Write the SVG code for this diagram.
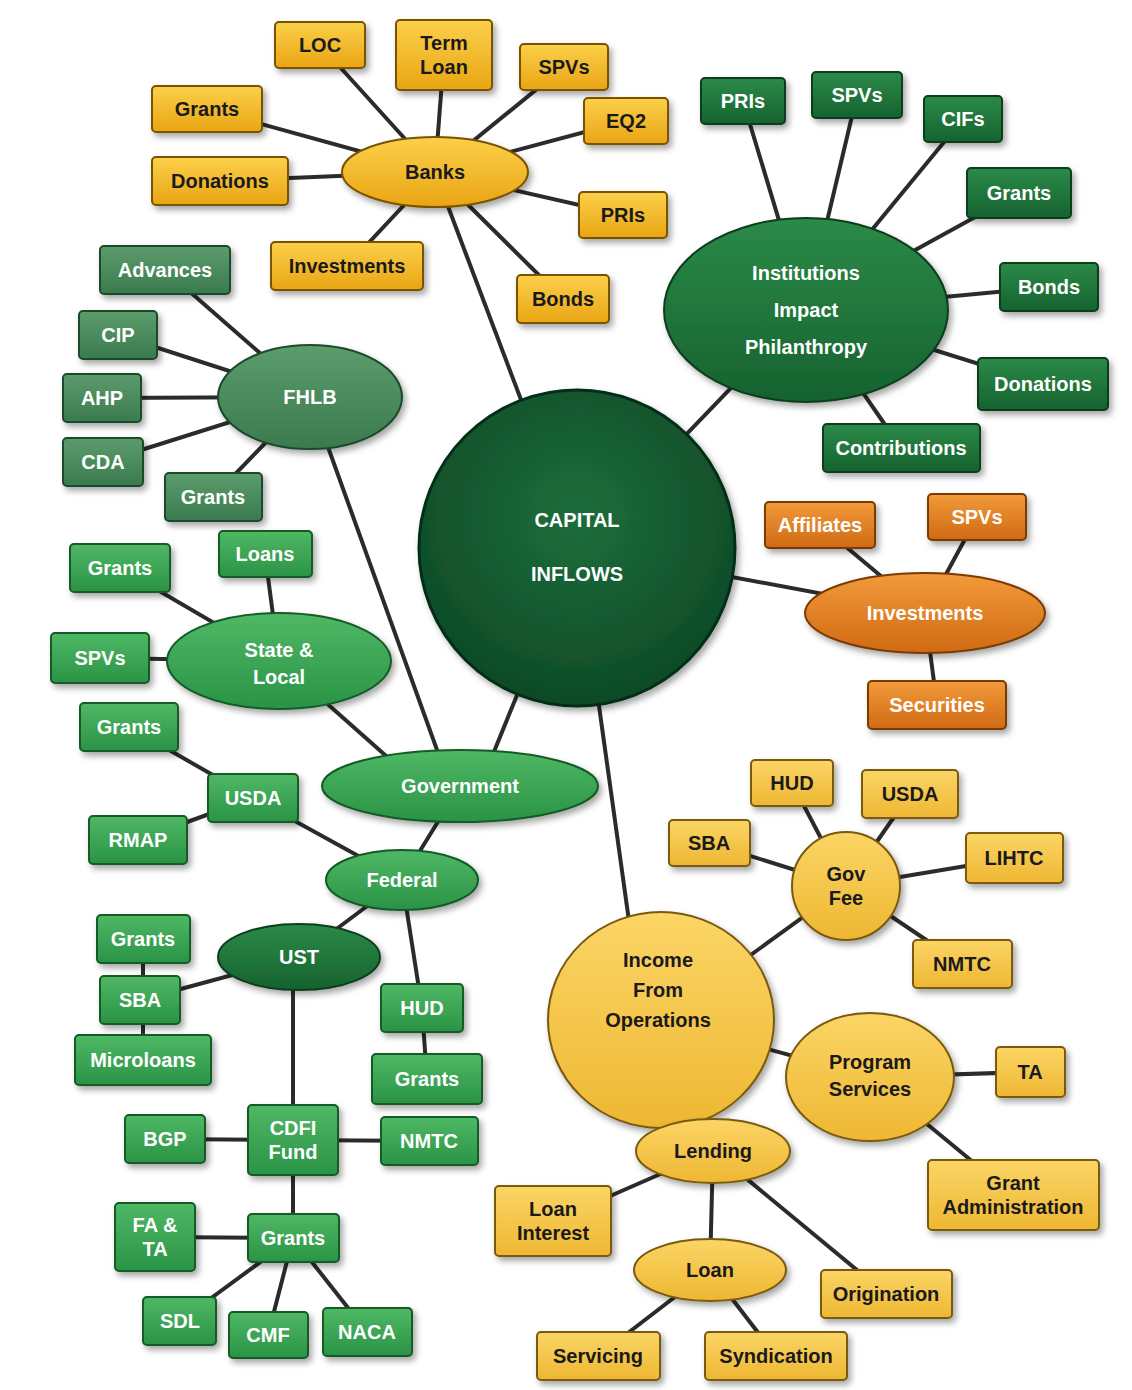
<svg xmlns="http://www.w3.org/2000/svg" width="1132" height="1390" viewBox="0 0 1132 1390">
<defs>
<filter id="sh" x="-20%" y="-20%" width="150%" height="160%"><feDropShadow dx="3" dy="4" stdDeviation="3" flood-color="#000" flood-opacity="0.35"/></filter>
<linearGradient id="gOr" x1="0" y1="0" x2="0" y2="1"><stop offset="0" stop-color="#fcd04a"/><stop offset="1" stop-color="#e9a514"/></linearGradient>
<linearGradient id="gYe" x1="0" y1="0" x2="0" y2="1"><stop offset="0" stop-color="#fbd566"/><stop offset="1" stop-color="#eeb732"/></linearGradient>
<linearGradient id="gDg" x1="0" y1="0" x2="0" y2="1"><stop offset="0" stop-color="#2b8a48"/><stop offset="1" stop-color="#16622f"/></linearGradient>
<linearGradient id="gMg" x1="0" y1="0" x2="0" y2="1"><stop offset="0" stop-color="#4fb865"/><stop offset="1" stop-color="#2a9346"/></linearGradient>
<linearGradient id="gSg" x1="0" y1="0" x2="0" y2="1"><stop offset="0" stop-color="#5c9c6c"/><stop offset="1" stop-color="#3a7a4e"/></linearGradient>
<linearGradient id="gDo" x1="0" y1="0" x2="0" y2="1"><stop offset="0" stop-color="#f29a3a"/><stop offset="1" stop-color="#d06a14"/></linearGradient>
<radialGradient id="gC" cx="0.5" cy="0.4" r="0.6"><stop offset="0" stop-color="#1e6e3c"/><stop offset="1" stop-color="#0e4a27"/></radialGradient>
</defs>
<style>
text{font-family:"Liberation Sans",Arial,sans-serif;font-weight:bold;text-anchor:middle;dominant-baseline:central}
.w{fill:#fff;font-size:20px}
.d{fill:#1a1a1a;font-size:20px}
.or{fill:url(#gOr);stroke:#7a5200;stroke-width:2;filter:url(#sh)}
.ye{fill:url(#gYe);stroke:#7a5a10;stroke-width:2;filter:url(#sh)}
.dg{fill:url(#gDg);stroke:#0b3d1c;stroke-width:2;filter:url(#sh)}
.mg{fill:url(#gMg);stroke:#135a27;stroke-width:2;filter:url(#sh)}
.sg{fill:url(#gSg);stroke:#1d4a2c;stroke-width:2;filter:url(#sh)}
.do{fill:url(#gDo);stroke:#7a3a05;stroke-width:2;filter:url(#sh)}
#edges line{stroke:#2b2b2b;stroke-width:4}
</style>
<g id="edges">
<line x1="577" y1="548" x2="435" y2="172"/><line x1="577" y1="548" x2="806" y2="310"/><line x1="577" y1="548" x2="925" y2="613"/><line x1="577" y1="548" x2="480" y2="786"/><line x1="577" y1="548" x2="640" y2="1000"/>
<line x1="435" y1="172" x2="320" y2="45"/><line x1="435" y1="172" x2="444" y2="55"/><line x1="435" y1="172" x2="564" y2="67"/><line x1="435" y1="172" x2="626" y2="121"/><line x1="435" y1="172" x2="623" y2="215"/><line x1="435" y1="172" x2="563" y2="299"/><line x1="435" y1="172" x2="347" y2="266"/><line x1="435" y1="172" x2="220" y2="181"/><line x1="435" y1="172" x2="207" y2="109"/>
<line x1="806" y1="310" x2="743" y2="101"/><line x1="806" y1="310" x2="857" y2="95"/><line x1="806" y1="310" x2="963" y2="119"/><line x1="806" y1="310" x2="1019" y2="193"/><line x1="806" y1="310" x2="1049" y2="287"/><line x1="806" y1="310" x2="1043" y2="384"/><line x1="806" y1="310" x2="901" y2="448"/>
<line x1="925" y1="613" x2="820" y2="525"/><line x1="925" y1="613" x2="977" y2="517"/><line x1="925" y1="613" x2="937" y2="705"/>
<line x1="310" y1="397" x2="165" y2="270"/><line x1="310" y1="397" x2="118" y2="335"/><line x1="310" y1="397" x2="102" y2="398"/><line x1="310" y1="397" x2="103" y2="462"/><line x1="310" y1="397" x2="213" y2="497"/><line x1="310" y1="397" x2="450" y2="786"/>
<line x1="279" y1="661" x2="265" y2="554"/><line x1="279" y1="661" x2="120" y2="568"/><line x1="279" y1="661" x2="100" y2="658"/><line x1="279" y1="661" x2="420" y2="786"/>
<line x1="460" y1="786" x2="402" y2="880"/>
<line x1="402" y1="880" x2="253" y2="798"/><line x1="253" y1="798" x2="129" y2="727"/><line x1="253" y1="798" x2="138" y2="840"/>
<line x1="402" y1="880" x2="299" y2="957"/><line x1="402" y1="880" x2="422" y2="1008"/><line x1="422" y1="1008" x2="427" y2="1079"/>
<line x1="143" y1="939" x2="143" y2="1060"/><line x1="299" y1="957" x2="140" y2="1000"/><line x1="293" y1="957" x2="293" y2="1140"/>
<line x1="293" y1="1140" x2="165" y2="1139"/><line x1="293" y1="1140" x2="429" y2="1141"/><line x1="293" y1="1140" x2="293" y2="1238"/>
<line x1="293" y1="1238" x2="155" y2="1237"/><line x1="293" y1="1238" x2="180" y2="1321"/><line x1="293" y1="1238" x2="268" y2="1335"/><line x1="293" y1="1238" x2="367" y2="1332"/>
<line x1="661" y1="1020" x2="846" y2="886"/><line x1="846" y1="886" x2="792" y2="783"/><line x1="846" y1="886" x2="910" y2="794"/><line x1="846" y1="886" x2="709" y2="843"/><line x1="846" y1="886" x2="1014" y2="858"/><line x1="846" y1="886" x2="962" y2="964"/>
<line x1="661" y1="1020" x2="870" y2="1077"/><line x1="870" y1="1077" x2="1030" y2="1072"/><line x1="870" y1="1077" x2="1013" y2="1195"/>
<line x1="661" y1="1020" x2="713" y2="1151"/><line x1="713" y1="1151" x2="553" y2="1221"/><line x1="713" y1="1151" x2="710" y2="1270"/><line x1="713" y1="1151" x2="886" y2="1294"/>
<line x1="710" y1="1270" x2="598" y2="1356"/><line x1="710" y1="1270" x2="776" y2="1356"/>
</g>
<g id="capital"><circle cx="577" cy="548" r="158" fill="url(#gC)" stroke="#062e16" stroke-width="3" filter="url(#sh)"/><text x="577" y="520" class="w" font-size="44">CAPITAL</text><text x="577" y="574" class="w" font-size="44">INFLOWS</text></g>
<g id="banks"><ellipse cx="435" cy="172" rx="93" ry="35" class="or"/><text x="435" y="172" class="d" font-size="28">Banks</text></g>
<g id="b-loc"><rect x="275" y="22" width="90" height="46" rx="4" class="or"/><text x="320" y="45" class="d">LOC</text></g>
<g id="b-term"><rect x="396" y="20" width="96" height="70" rx="4" class="or"/><text x="444" y="43" class="d">Term</text><text x="444" y="67" class="d">Loan</text></g>
<g id="b-spvs"><rect x="520" y="44" width="88" height="46" rx="4" class="or"/><text x="564" y="67" class="d">SPVs</text></g>
<g id="b-eq2"><rect x="584" y="98" width="84" height="46" rx="4" class="or"/><text x="626" y="121" class="d">EQ2</text></g>
<g id="b-pris"><rect x="579" y="192" width="88" height="46" rx="4" class="or"/><text x="623" y="215" class="d">PRIs</text></g>
<g id="b-bonds"><rect x="517" y="275" width="92" height="48" rx="4" class="or"/><text x="563" y="299" class="d">Bonds</text></g>
<g id="b-inv"><rect x="271" y="242" width="152" height="48" rx="4" class="or"/><text x="347" y="266" class="d">Investments</text></g>
<g id="b-don"><rect x="152" y="157" width="136" height="48" rx="4" class="or"/><text x="220" y="181" class="d">Donations</text></g>
<g id="b-grants"><rect x="152" y="86" width="110" height="46" rx="4" class="or"/><text x="207" y="109" class="d">Grants</text></g>
<g id="inst"><ellipse cx="806" cy="310" rx="142" ry="92" class="dg"/><text x="806" y="273" class="w" font-size="28">Institutions</text><text x="806" y="310" class="w" font-size="28">Impact</text><text x="806" y="347" class="w" font-size="28">Philanthropy</text></g>
<g id="i-pris"><rect x="701" y="78" width="84" height="46" rx="4" class="dg"/><text x="743" y="101" class="w">PRIs</text></g>
<g id="i-spvs"><rect x="812" y="72" width="90" height="46" rx="4" class="dg"/><text x="857" y="95" class="w">SPVs</text></g>
<g id="i-cifs"><rect x="924" y="96" width="78" height="46" rx="4" class="dg"/><text x="963" y="119" class="w">CIFs</text></g>
<g id="i-grants"><rect x="967" y="168" width="104" height="50" rx="4" class="dg"/><text x="1019" y="193" class="w">Grants</text></g>
<g id="i-bonds"><rect x="1000" y="263" width="98" height="48" rx="4" class="dg"/><text x="1049" y="287" class="w">Bonds</text></g>
<g id="i-don"><rect x="978" y="358" width="130" height="52" rx="4" class="dg"/><text x="1043" y="384" class="w">Donations</text></g>
<g id="i-contr"><rect x="823" y="424" width="157" height="48" rx="4" class="dg"/><text x="901" y="448" class="w">Contributions</text></g>
<g id="invest"><ellipse cx="925" cy="613" rx="120" ry="40" class="do"/><text x="925" y="613" class="w" font-size="25">Investments</text></g>
<g id="v-aff"><rect x="765" y="502" width="110" height="46" rx="4" class="do"/><text x="820" y="525" class="w">Affiliates</text></g>
<g id="v-spvs"><rect x="928" y="494" width="98" height="46" rx="4" class="do"/><text x="977" y="517" class="w">SPVs</text></g>
<g id="v-sec"><rect x="868" y="681" width="138" height="48" rx="4" class="do"/><text x="937" y="705" class="w">Securities</text></g>
<g id="fhlb"><ellipse cx="310" cy="397" rx="92" ry="52" class="sg"/><text x="310" y="397" class="w" font-size="28">FHLB</text></g>
<g id="f-adv"><rect x="100" y="246" width="130" height="48" rx="4" class="sg"/><text x="165" y="270" class="w">Advances</text></g>
<g id="f-cip"><rect x="79" y="311" width="78" height="48" rx="4" class="sg"/><text x="118" y="335" class="w">CIP</text></g>
<g id="f-ahp"><rect x="63" y="374" width="78" height="48" rx="4" class="sg"/><text x="102" y="398" class="w">AHP</text></g>
<g id="f-cda"><rect x="63" y="438" width="80" height="48" rx="4" class="sg"/><text x="103" y="462" class="w">CDA</text></g>
<g id="f-grants"><rect x="165" y="473" width="97" height="48" rx="4" class="sg"/><text x="213" y="497" class="w">Grants</text></g>
<g id="state"><ellipse cx="279" cy="661" rx="112" ry="48" class="mg"/><text x="279" y="650" class="w" font-size="22">State &amp;</text><text x="279" y="677" class="w" font-size="22">Local</text></g>
<g id="s-loans"><rect x="219" y="531" width="93" height="46" rx="4" class="mg"/><text x="265" y="554" class="w">Loans</text></g>
<g id="s-grants"><rect x="70" y="544" width="100" height="48" rx="4" class="mg"/><text x="120" y="568" class="w">Grants</text></g>
<g id="s-spvs"><rect x="51" y="633" width="98" height="50" rx="4" class="mg"/><text x="100" y="658" class="w">SPVs</text></g>
<g id="gov"><ellipse cx="460" cy="786" rx="138" ry="36" class="mg"/><text x="460" y="786" class="w" font-size="26">Government</text></g>
<g id="federal"><ellipse cx="402" cy="880" rx="76" ry="30" class="mg"/><text x="402" y="880" class="w" font-size="22">Federal</text></g>
<g id="usda"><rect x="208" y="774" width="90" height="48" rx="4" class="mg"/><text x="253" y="798" class="w">USDA</text></g>
<g id="u-grants"><rect x="80" y="703" width="98" height="48" rx="4" class="mg"/><text x="129" y="727" class="w">Grants</text></g>
<g id="u-rmap"><rect x="89" y="816" width="98" height="48" rx="4" class="mg"/><text x="138" y="840" class="w">RMAP</text></g>
<g id="ust"><ellipse cx="299" cy="957" rx="81" ry="33" class="dg"/><text x="299" y="957" class="w" font-size="22">UST</text></g>
<g id="t-grants"><rect x="97" y="915" width="93" height="48" rx="4" class="mg"/><text x="143" y="939" class="w">Grants</text></g>
<g id="t-sba"><rect x="100" y="976" width="80" height="48" rx="4" class="mg"/><text x="140" y="1000" class="w">SBA</text></g>
<g id="t-micro"><rect x="75" y="1035" width="136" height="50" rx="4" class="mg"/><text x="143" y="1060" class="w">Microloans</text></g>
<g id="hud"><rect x="381" y="984" width="82" height="48" rx="4" class="mg"/><text x="422" y="1008" class="w">HUD</text></g>
<g id="h-grants"><rect x="372" y="1054" width="110" height="50" rx="4" class="mg"/><text x="427" y="1079" class="w">Grants</text></g>
<g id="cdfi"><rect x="248" y="1105" width="90" height="70" rx="4" class="mg"/><text x="293" y="1128" class="w">CDFI</text><text x="293" y="1152" class="w">Fund</text></g>
<g id="c-bgp"><rect x="125" y="1115" width="80" height="48" rx="4" class="mg"/><text x="165" y="1139" class="w">BGP</text></g>
<g id="c-nmtc"><rect x="381" y="1117" width="97" height="48" rx="4" class="mg"/><text x="429" y="1141" class="w">NMTC</text></g>
<g id="c-grants"><rect x="248" y="1214" width="91" height="48" rx="4" class="mg"/><text x="293" y="1238" class="w">Grants</text></g>
<g id="g-fata"><rect x="115" y="1203" width="80" height="68" rx="4" class="mg"/><text x="155" y="1225" class="w">FA &amp;</text><text x="155" y="1249" class="w">TA</text></g>
<g id="g-sdl"><rect x="143" y="1297" width="73" height="48" rx="4" class="mg"/><text x="180" y="1321" class="w">SDL</text></g>
<g id="g-cmf"><rect x="229" y="1312" width="79" height="46" rx="4" class="mg"/><text x="268" y="1335" class="w">CMF</text></g>
<g id="g-naca"><rect x="323" y="1308" width="89" height="48" rx="4" class="mg"/><text x="367" y="1332" class="w">NACA</text></g>
<g id="income"><ellipse cx="661" cy="1020" rx="113" ry="108" class="ye"/><text x="658" y="960" class="d" font-size="24">Income</text><text x="658" y="990" class="d" font-size="24">From</text><text x="658" y="1020" class="d" font-size="24">Operations</text></g>
<g id="govfee"><circle cx="846" cy="886" r="54" class="ye"/><text x="846" y="874" class="d">Gov</text><text x="846" y="898" class="d">Fee</text></g>
<g id="gf-hud"><rect x="751" y="760" width="82" height="46" rx="4" class="ye"/><text x="792" y="783" class="d">HUD</text></g>
<g id="gf-usda"><rect x="862" y="770" width="96" height="48" rx="4" class="ye"/><text x="910" y="794" class="d">USDA</text></g>
<g id="gf-sba"><rect x="669" y="820" width="81" height="46" rx="4" class="ye"/><text x="709" y="843" class="d">SBA</text></g>
<g id="gf-lihtc"><rect x="966" y="833" width="97" height="50" rx="4" class="ye"/><text x="1014" y="858" class="d">LIHTC</text></g>
<g id="gf-nmtc"><rect x="913" y="940" width="99" height="48" rx="4" class="ye"/><text x="962" y="964" class="d">NMTC</text></g>
<g id="prog"><ellipse cx="870" cy="1077" rx="84" ry="64" class="ye"/><text x="870" y="1062" class="d">Program</text><text x="870" y="1089" class="d">Services</text></g>
<g id="p-ta"><rect x="996" y="1047" width="69" height="50" rx="4" class="ye"/><text x="1030" y="1072" class="d">TA</text></g>
<g id="p-ga"><rect x="928" y="1160" width="171" height="70" rx="4" class="ye"/><text x="1013" y="1183" class="d">Grant</text><text x="1013" y="1207" class="d">Administration</text></g>
<g id="lending"><ellipse cx="713" cy="1151" rx="77" ry="32" class="ye"/><text x="713" y="1151" class="d">Lending</text></g>
<g id="l-int"><rect x="495" y="1186" width="116" height="70" rx="4" class="ye"/><text x="553" y="1209" class="d">Loan</text><text x="553" y="1233" class="d">Interest</text></g>
<g id="l-orig"><rect x="821" y="1270" width="131" height="48" rx="4" class="ye"/><text x="886" y="1294" class="d">Origination</text></g>
<g id="loan"><ellipse cx="710" cy="1270" rx="76" ry="31" class="ye"/><text x="710" y="1270" class="d">Loan</text></g>
<g id="lo-serv"><rect x="537" y="1332" width="123" height="48" rx="4" class="ye"/><text x="598" y="1356" class="d">Servicing</text></g>
<g id="lo-synd"><rect x="705" y="1332" width="142" height="48" rx="4" class="ye"/><text x="776" y="1356" class="d">Syndication</text></g>
</svg>
